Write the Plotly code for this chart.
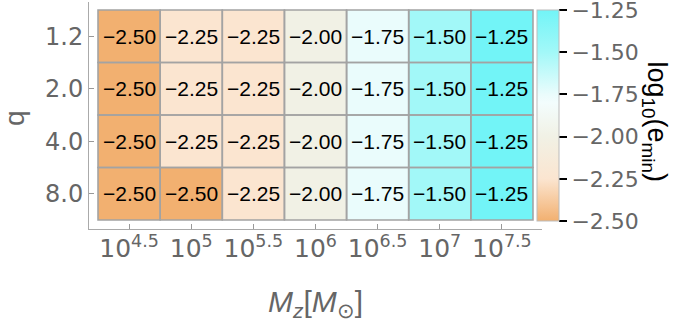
import plotly.graph_objects as go

# ---- data ----
log_mass = [4.5, 5.0, 5.5, 6.0, 6.5, 7.0, 7.5]
mass_labels = ["10<sup>4.5</sup>", "10<sup>5</sup>", "10<sup>5.5</sup>", "10<sup>6</sup>",
               "10<sup>6.5</sup>", "10<sup>7</sup>", "10<sup>7.5</sup>"]
q_labels = ["1.2", "2.0", "4.0", "8.0"]
row_q12 = [-2.50, -2.25, -2.25, -2.00, -1.75, -1.50, -1.25]
row_q20 = [-2.50, -2.25, -2.25, -2.00, -1.75, -1.50, -1.25]
row_q40 = [-2.50, -2.25, -2.25, -2.00, -1.75, -1.50, -1.25]
row_q80 = [-2.50, -2.50, -2.25, -2.00, -1.75, -1.50, -1.25]
cbar_ticks = [-2.50, -2.25, -2.00, -1.75, -1.50, -1.25]

z = [row_q12, row_q20, row_q40, row_q80]
y_idx = list(range(len(q_labels)))

colorscale = [
    [0.0, "#F2B070"],
    [0.2, "#FBE5D0"],
    [0.4, "#F1F1E5"],
    [0.56, "#F3FDFD"],
    [0.6, "#EAFCFC"],
    [0.8, "#A2F8F8"],
    [1.0, "#72F4F7"],
]

FONT = "Liberation Sans, Arial, sans-serif"
TFONT = "DejaVu Sans, sans-serif"
GREY = "#666666"

fig = go.Figure()
fig.add_trace(go.Heatmap(
    x=log_mass, y=y_idx, z=z,
    zmin=-2.5, zmax=-1.2499,
    colorscale=colorscale,
    showscale=True,
    colorbar=dict(
        x=0.989, xanchor="left", y=(229 - 115.5) / 227, yanchor="middle",
        len=211, lenmode="pixels", thickness=22, thicknessmode="pixels",
        xpad=0, ypad=0,
        outlinecolor="#BBBBBB", outlinewidth=1,
        tickvals=cbar_ticks, tickformat=".2f", tickprefix="\u2009",
        ticks="outside", ticklen=8, tickwidth=1.5, tickcolor="black",
        ticklabeloverflow="allow",
        tickfont=dict(family=TFONT, size=22, color=GREY),
    ),
    hoverinfo="skip",
))

# cell borders and value labels
dx = (log_mass[1] - log_mass[0]) / 2
for j, row in enumerate(z):
    for i, v in enumerate(row):
        fig.add_shape(type="rect", xref="x", yref="y",
                      x0=log_mass[i] - dx, x1=log_mass[i] + dx,
                      y0=y_idx[j] - 0.5, y1=y_idx[j] + 0.5,
                      line=dict(color="#A3A3A3", width=1.6))
        fig.add_annotation(x=log_mass[i], y=y_idx[j], xref="x", yref="y",
                           text=f"{v:.2f}".replace("-", "\u2212"), showarrow=False,
                           font=dict(family=FONT, size=21, color="black"))

fig.update_xaxes(
    range=[4.25 - 9 / 124, 7.75 + 9 / 124],
    tickvals=log_mass, ticktext=mass_labels,
    ticks="inside", ticklen=5, tickcolor="#999999",
    showline=True, linecolor="#AAAAAA", linewidth=1,
    showgrid=False, zeroline=False,
    ticklabelstandoff=-3,
    tickfont=dict(family=TFONT, size=25, color=GREY),
)
fig.update_yaxes(
    range=[3.5 + 0.171, -0.5 - 0.152],
    tickvals=y_idx, ticktext=q_labels,
    ticks="inside", ticklen=5, tickcolor="#999999",
    showline=True, linecolor="#AAAAAA", linewidth=1,
    showgrid=False, zeroline=False,
    tickfont=dict(family=TFONT, size=24, color=GREY),
)

fig.add_annotation(xref="paper", yref="paper", x=0.499, y=-0.326,
                   text="<i>M</i><sub><i>z</i></sub>[<i>M</i><sub>\u2299</sub>]",
                   showarrow=False, font=dict(family=FONT, size=30, color=GREY),
                   xanchor="center", yanchor="middle")
fig.add_annotation(xref="paper", yref="paper", x=-0.163, y=0.49,
                   text="q", textangle=-90, showarrow=False,
                   font=dict(family=FONT, size=28, color=GREY),
                   xanchor="center", yanchor="middle")
fig.add_annotation(xref="paper", yref="paper", x=1.249, y=0.470,
                   text="log<sub>10</sub>(e<sub>min</sub>)", textangle=90, showarrow=False,
                   font=dict(family=FONT, size=27, color="black"),
                   xanchor="center", yanchor="middle")

fig.update_layout(
    width=673, height=325,
    margin=dict(l=89, r=131, t=2, b=96, autoexpand=False),
    plot_bgcolor="white", paper_bgcolor="white",
    showlegend=False,
)

fig.write_html("out.html", config={"displayModeBar": False},
               post_script="document.body.style.margin='0';")
